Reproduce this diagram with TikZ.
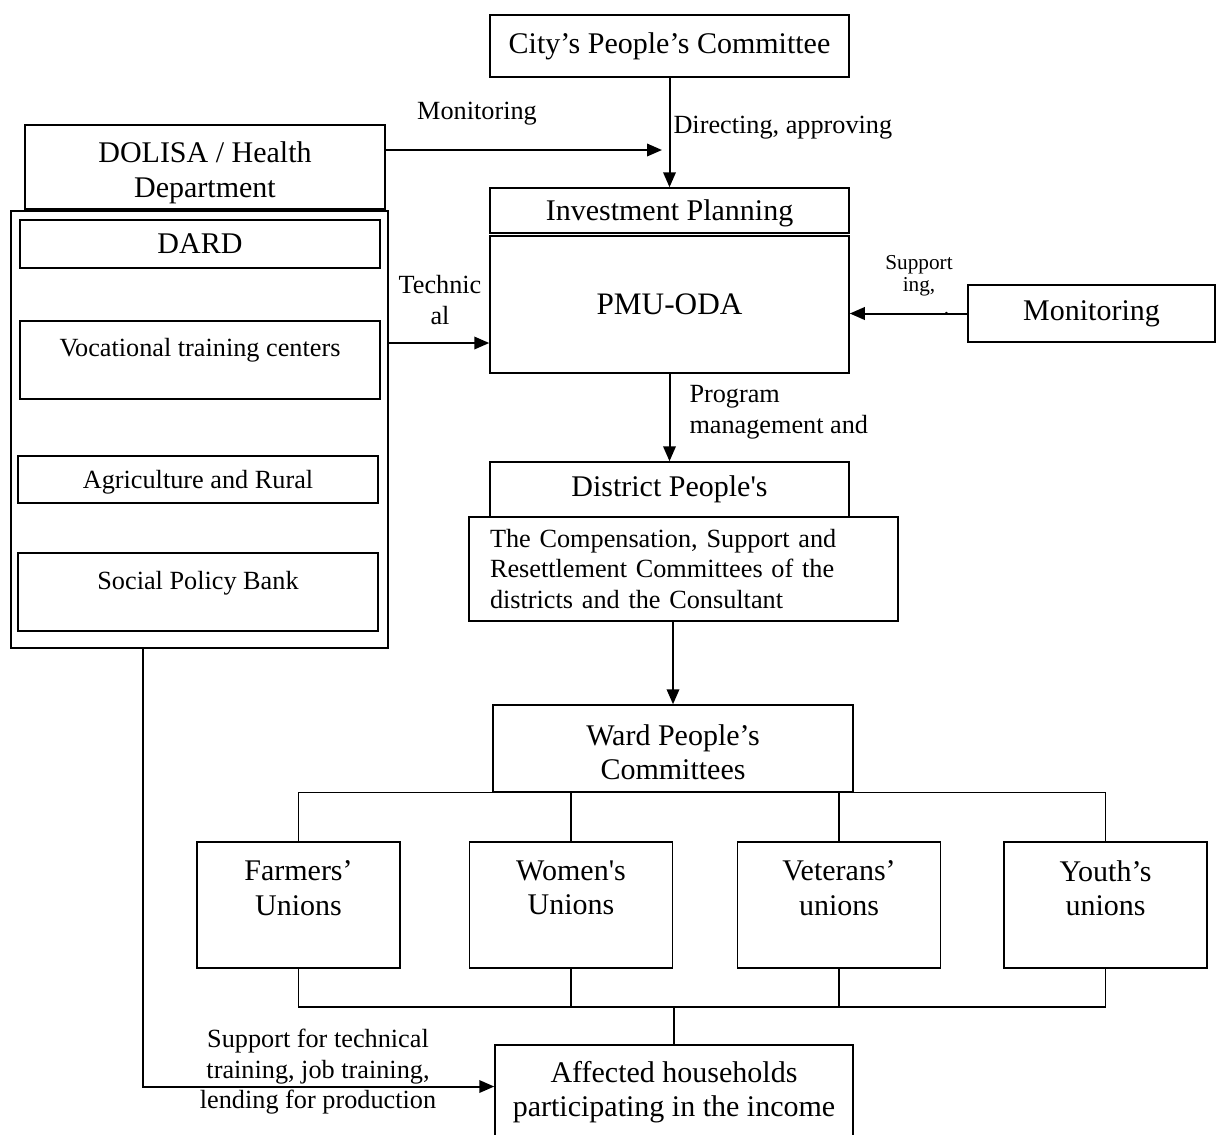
\documentclass[tikz,border=0pt]{standalone}
\usepackage{fontspec}
\setmainfont{Liberation Serif}
\usetikzlibrary{arrows.meta}
\newlength\px \setlength\px{0.4pt}
\newcommand\bxfont{\fontsize{12}{13.8}\selectfont}
\newcommand\lbfont{\fontsize{10.5}{12.2}\selectfont}
\newcommand\tyfont{\fontsize{8.5}{9}\selectfont}
\begin{document}
\begin{tikzpicture}[x=0.4pt,y=-0.4pt,
   frame/.style={draw,line width=0.6pt,inner sep=0pt,align=center,font=\bxfont},
   arr/.style={line width=0.8pt,-{Triangle[length=6pt,width=5pt]}},
   link/.style={line width=0.5pt},
   lbl/.style={inner sep=0pt,align=center,font=\lbfont}]
   \useasboundingbox (0,0) rectangle (1217,1134);
   % centre column
   \node[frame,minimum width=359\px,minimum height=62\px] (city) at (669.5,46) {City’s People’s Committee};
   \node[frame,minimum width=359\px,minimum height=45\px,text depth=0pt] (invest) at (669.5,210.5) {Investment Planning};
   \node[frame,minimum width=359\px,minimum height=137\px,font=\fontsize{12.5}{14}\selectfont] (pmu) at (669.5,304.5) {PMU-ODA};
   \node[frame,minimum width=359\px,minimum height=55\px] (district) at (669.5,489.5) {District People\textquotesingle s};
   \node[frame,fill=white,font=\lbfont,align=left,text width=387\px,inner xsep=21\px,minimum height=104\px] (comp) at (683.5,569)
      {The Compensation, Support and\\Resettlement Committees of the\\districts and the Consultant};
   \node[frame,minimum width=360\px,minimum height=87\px] (ward) at (673,748.5) {};
   \node[lbl,font=\bxfont] (ward-t) at (673,752) {Ward People’s\\Committees};
   % departments on the left
   \node[frame,minimum width=360\px,minimum height=84\px] (dolisa) at (205,167) {};
   \node[lbl,font=\bxfont] (dolisa-t) at (205,173) {DOLISA / Health\\Department};
   \node[frame,fill=white,minimum width=377\px,minimum height=437\px] (dept) at (199.5,429.5) {};
   \node[frame,minimum width=360\px,minimum height=48\px,text depth=0pt] (dard) at (200,244) {DARD};
   \node[frame,minimum width=360\px,minimum height=78\px] (voc) at (200,360) {};
   \node[lbl] (voc-t) at (200,350) {Vocational training centers};
   \node[frame,font=\lbfont,minimum width=360\px,minimum height=47\px,text depth=0pt] (agri) at (198,479.5) {Agriculture and Rural};
   \node[frame,minimum width=360\px,minimum height=78\px] (spb) at (198,592) {};
   \node[lbl] (spb-t) at (198,583) {Social Policy Bank};
   \node[frame,minimum width=247\px,minimum height=57\px] (monr) at (1091.5,313.5) {Monitoring};
   % unions
   \foreach \nm/\cx/\tx in {farmers/298.5/{Farmers’\\Unions},women/571/{Women\textquotesingle s\\Unions},
                            veterans/839/{Veterans’\\unions},youth/1105.5/{Youth’s\\unions}} {
      \node[frame,minimum width=203\px,minimum height=126\px] (\nm) at (\cx,905) {};
      \node[lbl,font=\bxfont] (\nm-t) at (\cx,888) {\tx};
   }
   \node[frame,minimum width=358\px,minimum height=115\px] (affected) at (674,1102.5) {};
   \node[lbl,font=\bxfont] (affected-t) at (674,1092) {Affected households\\participating in the income};
   % arrows
   \coordinate (mon-end) at (662,150);
   \coordinate (hub) at (674,1007);
   \draw[arr] (city) -- (invest);
   \draw[arr] (dolisa.east |- mon-end) -- (mon-end);
   \draw[arr] (dept.east |- 0,343) -- (pmu.west |- 0,343);
   \draw[arr] (monr.west) -- (monr.west -| pmu.east);
   \draw[arr] (pmu) -- (district);
   \draw[arr] (comp.south -| ward.north) -- (ward.north);
   \draw[arr] ([xshift=133\px]dept.south west) |- ([yshift=16\px]affected.west);
   % branches
   \draw[link] (farmers.north) |- (ward.south) -| (youth.north);
   \draw[link] (women.north) -- (women.north |- ward.south);
   \draw[link] (veterans.north) -- (veterans.north |- ward.south);
   \draw[link] (farmers.south) |- (hub) -| (youth.south);
   \draw[link] (women.south) -- (women.south |- hub);
   \draw[link] (veterans.south) -- (veterans.south |- hub);
   \draw[link] (hub) -- (affected.north);
   % labels
   \node[lbl] (l-mon) at (477,114) {Monitoring};
   \node[lbl,anchor=west] (l-dir) at (673,128) {Directing, approving};
   \node[lbl] (l-tech) at (440,300) {Technic\\al};
   \node[lbl,font=\tyfont] (l-sup) at (919,285) {Support\\ing,\\\hspace*{22pt}.};
   \node[lbl,anchor=west,align=left] (l-prog) at (689,412) {Program\\management and};
   \node[lbl] (l-train) at (318,1072) {Support for technical\\training, job training,\\lending for production};
\end{tikzpicture}
\end{document}
